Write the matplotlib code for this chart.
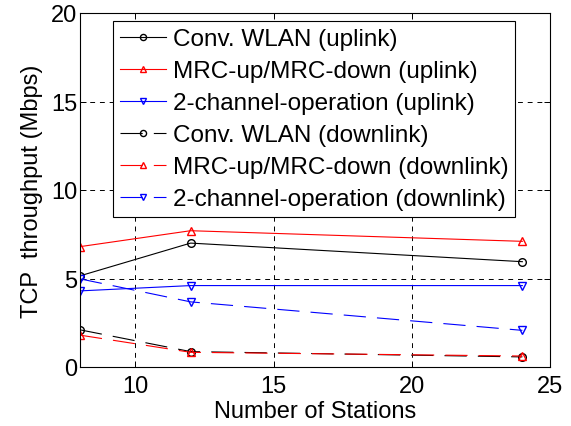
import matplotlib
matplotlib.use("Agg")
import matplotlib.pyplot as plt

plt.rcParams['font.family'] = ['Liberation Sans', 'DejaVu Sans']

# Number of stations
stations = [8, 12, 24]

# TCP throughput (Mbps)
conv_up = [5.15, 7.0, 5.95]
mrc_up = [6.8, 7.7, 7.1]
twoch_up = [4.3, 4.6, 4.6]
conv_down = [2.1, 0.87, 0.57]
mrc_down = [1.8, 0.83, 0.62]
twoch_down = [4.98, 3.68, 2.07]

labels = ["Conv. WLAN (uplink)", "MRC-up/MRC-down (uplink)",
          "2-channel-operation (uplink)", "Conv. WLAN (downlink)",
          "MRC-up/MRC-down (downlink)", "2-channel-operation (downlink)"]

fig = plt.figure(figsize=(5.71, 4.27), dpi=100)
ax = fig.add_axes([80 / 571, 1 - 368 / 427, 470 / 571, 354 / 427])

lw = 0.8
ms = 5.5
dash = (20, 10)
ax.plot(stations, conv_up, color='black', marker='o', mfc='none', lw=lw, ms=ms, label=labels[0])
ax.plot(stations, mrc_up, color='red', marker='^', mfc='none', lw=lw, ms=ms, label=labels[1])
ax.plot(stations, twoch_up, color='blue', marker='v', mfc='none', lw=lw, ms=ms, label=labels[2])
ax.plot(stations, conv_down, color='black', marker='o', mfc='none', lw=lw, ms=ms, dashes=dash, label=labels[3])
ax.plot(stations, mrc_down, color='red', marker='^', mfc='none', lw=lw, ms=ms, dashes=dash, label=labels[4])
ax.plot(stations, twoch_down, color='blue', marker='v', mfc='none', lw=lw, ms=ms, dashes=dash, label=labels[5])

ax.set_xlim(8, 25)
ax.set_ylim(0, 20)
ax.set_xticks([10, 15, 20, 25])
ax.set_yticks([0, 5, 10, 15, 20])
ax.grid(True, color='black', linestyle=(0, (5, 5)), linewidth=0.7)
ax.tick_params(direction='in', top=True, right=True, labelsize=17, length=4, width=0.7, pad=2)
ax.tick_params(axis='x', pad=6)
for s in ax.spines.values():
    s.set_linewidth(0.8)

ax.set_xlabel("Number of Stations", fontsize=17, labelpad=2)
ax.set_ylabel("TCP  throughput (Mbps)", fontsize=17, labelpad=6)

leg = ax.legend(loc='upper left', bbox_to_anchor=(113 / 571, 1 - 22 / 427),
                bbox_transform=fig.transFigure, fontsize=17.5, fancybox=False,
                framealpha=1, edgecolor='black', handlelength=1.9, handletextpad=0.25,
                labelspacing=0.41, borderpad=0.3, markerscale=0.8, borderaxespad=0)
leg.get_frame().set_linewidth(0.8)

fig.savefig("out.png", dpi=100)
